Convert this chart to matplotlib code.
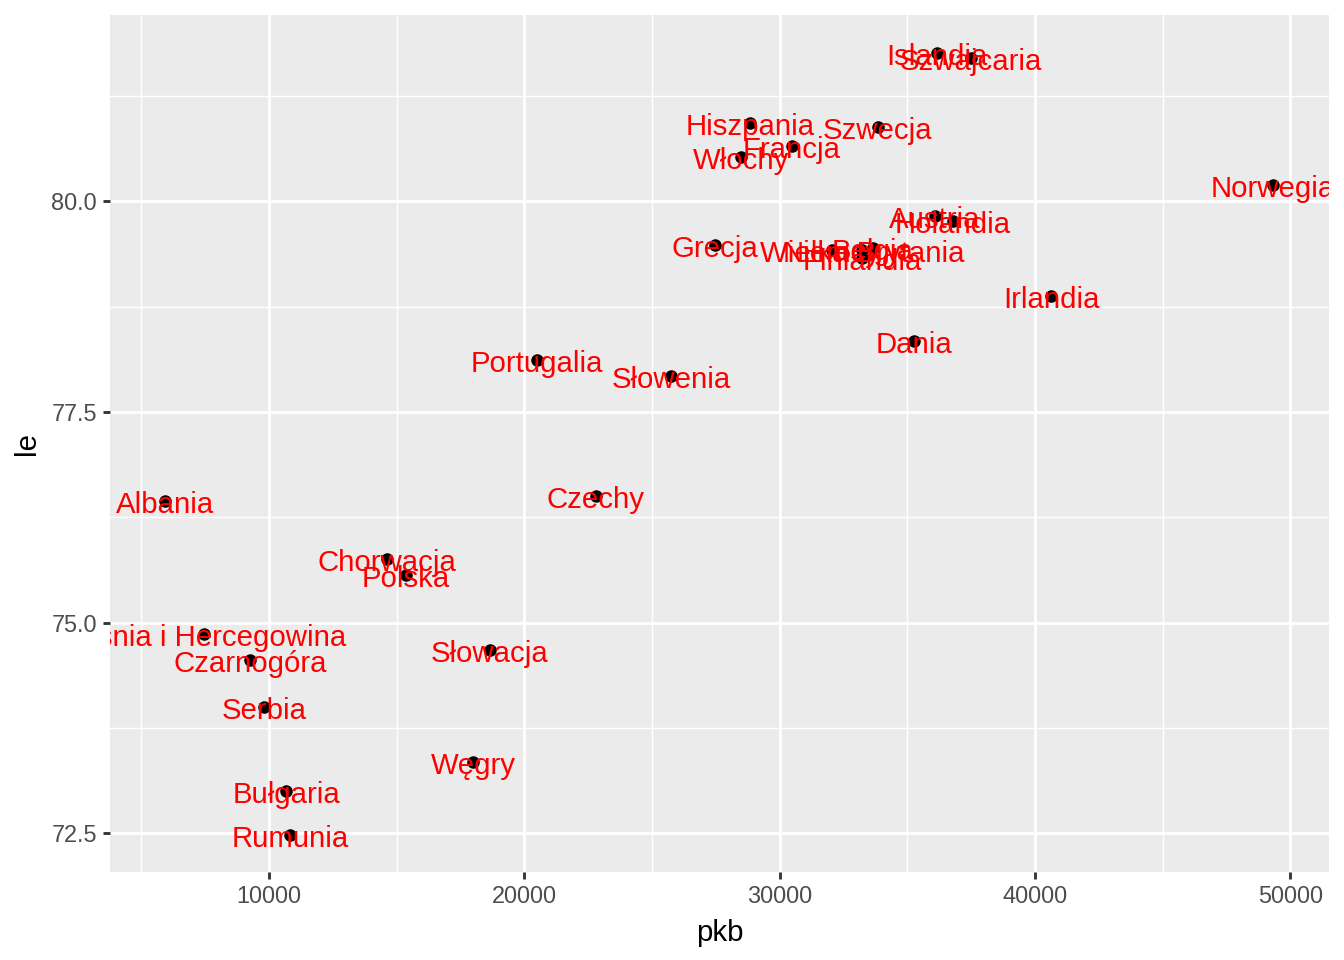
import matplotlib
matplotlib.use("Agg")
import matplotlib.pyplot as plt

plt.rcParams["font.family"] = ["Liberation Sans", "DejaVu Sans"]

# dane: kraj, pkb, oczekiwana dlugosc zycia
kraje = ["Islandia", "Szwajcaria", "Hiszpania", "Szwecja", "Francja", "Włochy",
         "Norwegia", "Austria", "Holandia", "Grecja", "Niemcy", "Wielka Brytania",
         "Belgia", "Finlandia", "Irlandia", "Dania", "Portugalia", "Słowenia",
         "Czechy", "Albania", "Chorwacja", "Polska", "Bośnia i Hercegowina",
         "Czarnogóra", "Słowacja", "Serbia", "Węgry", "Bułgaria", "Rumunia"]
pkb = [36165, 37497, 28840, 33854, 30486, 28488,
       49326, 36087, 36792, 27470, 32050, 33230,
       33660, 33230, 40631, 35264, 20497, 25746,
       22808, 5926, 14622, 15366, 7454,
       9256, 18656, 9804, 17991, 10666, 10823]
le = [81.76, 81.70, 80.93, 80.88, 80.65, 80.53,
      80.19, 79.82, 79.76, 79.48, 79.42, 79.42,
      79.45, 79.33, 78.88, 78.34, 78.11, 77.93,
      76.50, 76.44, 75.76, 75.56, 74.86,
      74.55, 74.67, 74.00, 73.35, 73.00, 72.48]

fig = plt.figure(figsize=(7, 5), dpi=192)
ax = fig.add_axes([110 / 1344, 88 / 960, 1219 / 1344, 857 / 960])
ax.set_facecolor("#EBEBEB")

ax.set_xlim(3772, 51520)
ax.set_ylim(72.04, 82.21)
ax.set_xticks([10000, 20000, 30000, 40000, 50000])
ax.set_yticks([72.5, 75.0, 77.5, 80.0])
ax.set_yticklabels(["72.5", "75.0", "77.5", "80.0"])
ax.set_xticks([5000, 15000, 25000, 35000, 45000], minor=True)
ax.set_yticks([73.75, 76.25, 78.75, 81.25], minor=True)

ax.grid(which="major", color="white", linewidth=1.07)
ax.grid(which="minor", color="white", linewidth=0.53)
ax.set_axisbelow(True)
for s in ax.spines.values():
    s.set_visible(False)
ax.tick_params(which="major", length=2.75, width=1.07, color="#333333",
               labelcolor="#4D4D4D", labelsize=8.8, pad=2.2)
ax.tick_params(which="minor", length=0)

ax.scatter(pkb, le, s=22, color="black", zorder=3, linewidths=0)
for k, x, y in zip(kraje, pkb, le):
    ax.annotate(k, (x, y), xytext=(0, -1.5), textcoords="offset points",
                color="red", fontsize=11, ha="center", va="center",
                annotation_clip=False, clip_on=True, zorder=4)

ax.set_xlabel("pkb", fontsize=11, labelpad=4)
ax.set_ylabel("le", fontsize=11, labelpad=4)

fig.savefig("out.png", dpi=192)
